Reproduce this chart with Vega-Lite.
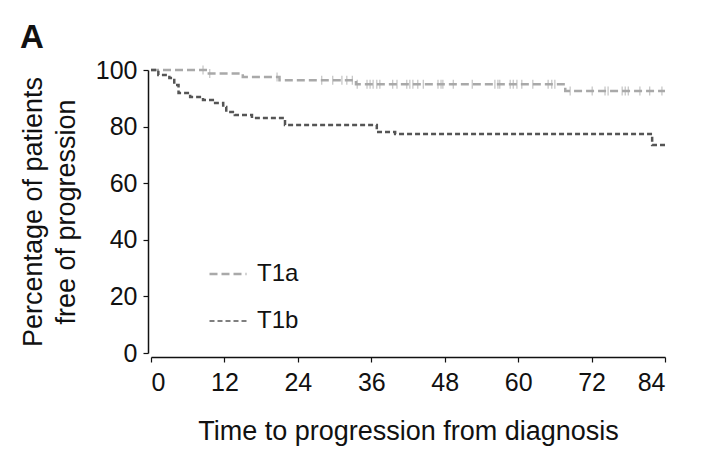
{
  "$schema": "https://vega.github.io/schema/vega-lite/v6.json",
  "width": 514,
  "height": 283,
  "autosize": {"type": "none"},
  "padding": {"left": 151, "top": 70, "right": 57, "bottom": 111},
  "background": "white",
  "title": {
    "text": "A",
    "anchor": "start",
    "frame": "group",
    "font": "Liberation Sans",
    "fontSize": 33,
    "fontWeight": "bold",
    "color": "#111111",
    "dx": -131,
    "dy": 43,
    "offset": 20,
    "baseline": "alphabetic"
  },
  "datasets": {
    "km": [
      {"group": "T1a", "month": 0, "pct": 100},
      {"group": "T1a", "month": 9.2, "pct": 98.8},
      {"group": "T1a", "month": 15, "pct": 97.5},
      {"group": "T1a", "month": 21, "pct": 96.4},
      {"group": "T1a", "month": 33.5, "pct": 95.0},
      {"group": "T1a", "month": 67.7, "pct": 92.6},
      {"group": "T1a", "month": 84, "pct": 92.6},
      {"group": "T1b", "month": 0, "pct": 100},
      {"group": "T1b", "month": 1.2, "pct": 98.2},
      {"group": "T1b", "month": 3.0, "pct": 97.2},
      {"group": "T1b", "month": 3.8, "pct": 94.7},
      {"group": "T1b", "month": 4.5, "pct": 91.9},
      {"group": "T1b", "month": 6.4, "pct": 90.5},
      {"group": "T1b", "month": 8.5, "pct": 89.4},
      {"group": "T1b", "month": 10.1, "pct": 88.3},
      {"group": "T1b", "month": 11.8, "pct": 86.9},
      {"group": "T1b", "month": 12.3, "pct": 85.2},
      {"group": "T1b", "month": 13.7, "pct": 84.1},
      {"group": "T1b", "month": 16.5, "pct": 83.0},
      {"group": "T1b", "month": 21.9, "pct": 80.6},
      {"group": "T1b", "month": 36.9, "pct": 78.1},
      {"group": "T1b", "month": 39.9, "pct": 77.4},
      {"group": "T1b", "month": 81.9, "pct": 73.5},
      {"group": "T1b", "month": 84, "pct": 73.5}
    ],
    "censored": [
      {"month": 8.5, "pct": 100},
      {"month": 9.6, "pct": 98.8},
      {"month": 20.6, "pct": 97.5},
      {"month": 27.9, "pct": 96.4},
      {"month": 29.7, "pct": 96.4},
      {"month": 31.2, "pct": 96.4},
      {"month": 32.0, "pct": 96.4},
      {"month": 32.9, "pct": 96.4},
      {"month": 33.7, "pct": 95.0},
      {"month": 35.3, "pct": 95.0},
      {"month": 35.8, "pct": 95.0},
      {"month": 36.3, "pct": 95.0},
      {"month": 36.9, "pct": 95.0},
      {"month": 37.4, "pct": 95.0},
      {"month": 39.5, "pct": 95.0},
      {"month": 40.2, "pct": 95.0},
      {"month": 41.8, "pct": 95.0},
      {"month": 42.3, "pct": 95.0},
      {"month": 42.8, "pct": 95.0},
      {"month": 43.6, "pct": 95.0},
      {"month": 44.5, "pct": 95.0},
      {"month": 46.9, "pct": 95.0},
      {"month": 47.4, "pct": 95.0},
      {"month": 47.7, "pct": 95.0},
      {"month": 49.4, "pct": 95.0},
      {"month": 52.5, "pct": 95.0},
      {"month": 56.2, "pct": 95.0},
      {"month": 56.7, "pct": 95.0},
      {"month": 57.0, "pct": 95.0},
      {"month": 58.7, "pct": 95.0},
      {"month": 59.2, "pct": 95.0},
      {"month": 59.8, "pct": 95.0},
      {"month": 60.6, "pct": 95.0},
      {"month": 62.4, "pct": 95.0},
      {"month": 64.9, "pct": 95.0},
      {"month": 65.5, "pct": 95.0},
      {"month": 66.0, "pct": 95.0},
      {"month": 68.5, "pct": 92.6},
      {"month": 72.1, "pct": 92.6},
      {"month": 74.2, "pct": 92.6},
      {"month": 74.7, "pct": 92.6},
      {"month": 77.0, "pct": 92.6},
      {"month": 77.5, "pct": 92.6},
      {"month": 78.0, "pct": 92.6},
      {"month": 79.9, "pct": 92.6},
      {"month": 81.5, "pct": 92.6},
      {"month": 83.5, "pct": 92.6}
    ]
  },
  "layer": [
    {
      "data": {"name": "km"},
      "mark": {"type": "line", "interpolate": "step-after", "strokeWidth": 2.5},
      "encoding": {
        "x": {
          "field": "month",
          "type": "quantitative",
          "scale": {"domain": [0, 84], "nice": false, "zero": false},
          "axis": {
            "title": "Time to progression from diagnosis",
            "values": [0, 12, 24, 36, 48, 60, 72, 84],
            "offset": 4,
            "labelPadding": 8,
            "titlePadding": 23
          }
        },
        "y": {
          "field": "pct",
          "type": "quantitative",
          "scale": {"domain": [0, 100], "nice": false},
          "axis": {
            "title": ["Percentage of patients", "free of progression"],
            "values": [0, 20, 40, 60, 80, 100],
            "offset": 3,
            "labelPadding": 6,
            "titlePadding": 15
          }
        },
        "color": {
          "field": "group",
          "type": "nominal",
          "scale": {"domain": ["T1a", "T1b"], "range": ["#a9a9a9", "#555555"]},
          "legend": {
            "title": null,
            "orient": "none",
            "legendX": 65,
            "legendY": 192,
            "symbolType": "stroke",
            "symbolSize": 1369,
            "symbolStrokeWidth": 2.5,
            "labelFont": "Liberation Sans",
            "labelFontSize": 24,
            "labelColor": "#111111",
            "labelOffset": 17,
            "rowPadding": 23,
            "encode": {
              "symbols": {
                "update": {
                  "stroke": {"signal": "datum.value === 'T1b' ? '#333333' : '#a9a9a9'"},
                  "strokeDash": {"signal": "datum.value === 'T1b' ? [2, 1.5] : [7, 4]"},
                  "strokeWidth": {"signal": "datum.value === 'T1b' ? 1.4 : 2.5"}
                }
              }
            }
          }
        },
        "strokeDash": {
          "field": "group",
          "type": "nominal",
          "scale": {"domain": ["T1a", "T1b"], "range": [[8, 4], [5, 3]]},
          "legend": null
        }
      }
    },
    {
      "data": {"name": "censored"},
      "mark": {"type": "tick", "orient": "vertical", "color": "#a9a9a9", "size": 9, "thickness": 1.2},
      "encoding": {
        "x": {"field": "month", "type": "quantitative"},
        "y": {"field": "pct", "type": "quantitative"}
      }
    }
  ],
  "config": {
    "view": {"stroke": null},
    "axis": {
      "grid": false,
      "domainColor": "#111111",
      "domainWidth": 1.5,
      "tickColor": "#111111",
      "tickWidth": 1.2,
      "tickSize": 5,
      "labelFont": "Liberation Sans",
      "labelFontSize": 25,
      "labelColor": "#111111",
      "titleFont": "Liberation Sans",
      "titleFontSize": 27,
      "titleFontWeight": "normal",
      "titleColor": "#111111",
      "titleLineHeight": 33
    }
  }
}
